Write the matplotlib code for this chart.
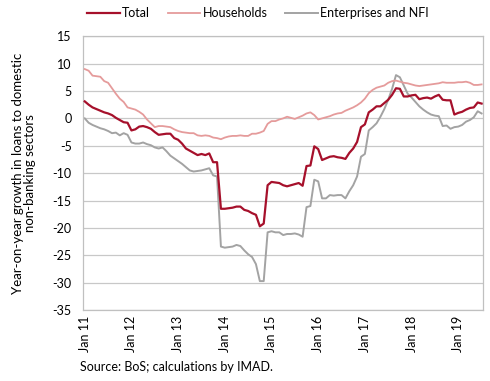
import numpy as np
import pandas as pd
import matplotlib
matplotlib.use('Agg')
import matplotlib.pyplot as plt

plt.rcParams['font.family'] = ['Lato', 'DejaVu Sans']

# monthly, Jan 2011 - Jul 2019, y-o-y growth in %
months = pd.date_range('2011-01-01', periods=103, freq='MS')

total = [
    3.1, 2.5, 2.0, 1.7, 1.4, 1.1, 0.9, 0.6, 0.1, -0.3, -0.7, -0.8,
    -2.2, -2.0, -1.5, -1.4, -1.6, -1.9, -2.5, -3.0, -2.9, -2.8, -2.8, -3.6,
    -3.9, -4.6, -5.5, -5.9, -6.3, -6.7, -6.5, -6.7, -6.4, -8.0, -8.0, -16.5,
    -16.5, -16.4, -16.3, -16.1, -16.1, -16.7, -16.9, -17.3, -17.6, -19.7, -19.2, -12.2,
    -11.6, -11.7, -11.8, -12.2, -12.4, -12.2, -12.0, -11.8, -12.3, -8.7, -8.6, -5.1,
    -5.6, -7.6, -7.3, -7.0, -6.9, -7.1, -7.2, -7.4, -6.3, -5.5, -4.3, -1.6,
    -1.1, 1.1, 1.6, 2.2, 2.2, 2.8, 3.4, 4.3, 5.5, 5.4, 4.0, 4.0,
    4.2, 4.3, 3.5, 3.7, 3.8, 3.6, 4.0, 4.3, 3.4, 3.3, 3.3, 0.7,
    1.0, 1.2, 1.6, 1.9, 2.0, 2.9, 2.7,
]

households = [
    9.0, 8.7, 7.8, 7.7, 7.6, 6.8, 6.5, 5.5, 4.5, 3.6, 3.0, 2.0,
    1.8, 1.6, 1.2, 0.7, -0.2, -0.9, -1.6, -1.4, -1.4, -1.5, -1.6, -2.0,
    -2.3, -2.5, -2.6, -2.7, -2.7, -3.1, -3.2, -3.1, -3.2, -3.5, -3.6, -3.8,
    -3.5, -3.3, -3.2, -3.2, -3.1, -3.2, -3.2, -2.8, -2.8, -2.6, -2.3, -1.0,
    -0.5, -0.5, -0.2, 0.0, 0.3, 0.1, -0.1, 0.2, 0.5, 0.9, 1.1, 0.6,
    -0.2, 0.0, 0.2, 0.4, 0.7, 0.9, 1.0, 1.4, 1.7, 2.0, 2.4, 2.9,
    3.6, 4.6, 5.2, 5.6, 5.8, 6.0, 6.5, 6.8, 6.9, 6.7, 6.5, 6.4,
    6.2, 6.0, 5.9, 6.0, 6.1, 6.2, 6.3, 6.4, 6.6, 6.5, 6.5, 6.5,
    6.6, 6.6, 6.7, 6.5, 6.1, 6.1, 6.2,
]

enterprises = [
    0.0, -0.8, -1.2, -1.5, -1.8, -2.0, -2.3, -2.7, -2.6, -3.1, -2.7, -3.0,
    -4.4, -4.6, -4.6, -4.4, -4.7, -4.9, -5.3, -5.5, -5.3, -6.0, -6.8, -7.3,
    -7.8, -8.3, -8.9, -9.5, -9.7, -9.6, -9.5, -9.3, -9.1, -10.4, -10.6, -23.4,
    -23.6, -23.5, -23.4, -23.1, -23.3, -24.1, -24.8, -25.3, -26.6, -29.7, -29.7, -20.8,
    -20.6, -20.8, -20.8, -21.3, -21.1, -21.1, -21.0, -21.2, -21.6, -16.2, -16.0, -11.2,
    -11.5, -14.6, -14.6, -14.0, -14.1, -14.0, -14.0, -14.6, -13.3, -12.2, -10.6, -7.0,
    -6.5, -2.2, -1.6, -0.9, 0.3, 1.7, 3.4, 5.4, 7.9, 7.5, 6.0, 4.5,
    3.8, 3.0, 2.2, 1.6, 1.1, 0.7, 0.5, 0.4, -1.4, -1.3, -1.9, -1.6,
    -1.5, -1.2, -0.6, -0.3, 0.2, 1.3, 0.9,
]

y_ticks = [15, 10, 5, 0, -5, -10, -15, -20, -25, -30, -35]

colors = {
    'total': '#A6102B',
    'households': '#E59B9B',
    'enterprises': '#A3A3A3',
}

x = np.arange(len(months))

fig = plt.figure(figsize=(4.9, 3.81), dpi=100)
ax = fig.add_axes([0.169, 0.186, 0.817, 0.719])

ax.plot(x, total, color=colors['total'], linewidth=1.6, label='Total', zorder=4)
ax.plot(x, households, color=colors['households'], linewidth=1.3, label='Households', zorder=3)
ax.plot(x, enterprises, color=colors['enterprises'], linewidth=1.4, label='Enterprises and NFI', zorder=2)

ax.set_ylim(-35, 15)
ax.set_yticks(y_ticks)
ax.set_yticklabels([str(v) for v in y_ticks], fontsize=9)
ax.set_xlim(-0.5, 102.4)

jan_idx = [i for i, d in enumerate(months) if d.month == 1]
ax.set_xticks(jan_idx)
ax.set_xticklabels([months[i].strftime('Jan %y') for i in jan_idx], rotation=90, fontsize=9)
ax.tick_params(length=0, pad=4)
ax.tick_params(axis='y', pad=8)

ax.grid(axis='y', color='#C8C8C8', linewidth=0.9)
ax.set_axisbelow(True)
for s in ax.spines.values():
    s.set_color('#C0C0C0')
    s.set_linewidth(0.9)

ax.set_ylabel('Year-on-year growth in loans to domestic\nnon-banking sectors', fontsize=9.5,
              linespacing=1.0, labelpad=12)

fig.legend(loc='upper left', bbox_to_anchor=(0.155, 1.01), ncol=3, frameon=False,
           fontsize=9, handlelength=2.6, handletextpad=0.2, columnspacing=1.4)

fig.text(0.163, 0.025, 'Source: BoS; calculations by IMAD.', fontsize=9)

fig.savefig('out.png', dpi=100, facecolor='white')
